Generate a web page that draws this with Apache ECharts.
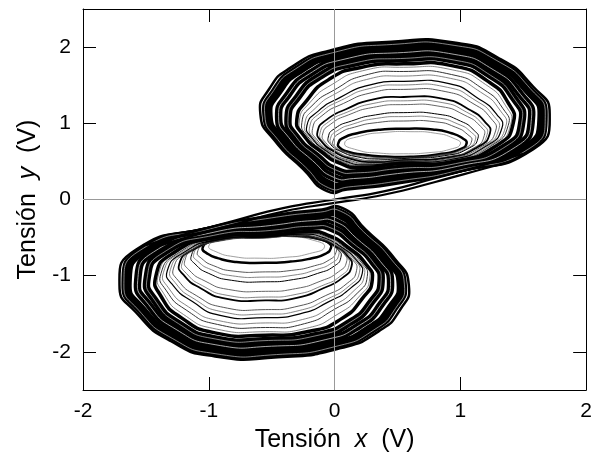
<!DOCTYPE html>
<html>
<head>
<meta charset="utf-8">
<script src="https://cdn.jsdelivr.net/npm/echarts@6/dist/echarts.min.js"></script>
<style>
  html, body { margin: 0; padding: 0; background: #fff; }
  #chart { width: 595px; height: 459px; }
</style>
</head>
<body>
<div id="chart"></div>
<script>
// tick values on both axes
const xTicks = [-2, -1, 0, 1, 2]
const yTicks = [-2, -1, 0, 1, 2]

// upper scroll: rings, from the hole outwards (x, y in volts)
const upperCore = [[0.08,0.74],[0.2,0.83],[0.4,0.88],[0.6,0.89],[0.8,0.87],[0.95,0.8],[1.0,0.73],[0.92,0.66],[0.75,0.615],[0.55,0.6],[0.35,0.61],[0.18,0.65]]
const upperRings = [
  [[0.03,0.74],[0.07,0.81],[0.18,0.87],[0.35,0.915],[0.55,0.93],[0.78,0.92],[0.93,0.87],[1.02,0.80],[1.05,0.74],[1.00,0.66],[0.85,0.60],[0.60,0.56],[0.40,0.565],[0.22,0.59],[0.10,0.63],[0.04,0.68]],
  [[-0.01,0.78],[0.04,0.87],[0.16,0.95],[0.34,1.01],[0.55,1.03],[0.80,1.02],[0.96,0.95],[1.06,0.85],[1.09,0.77],[1.03,0.67],[0.86,0.59],[0.59,0.55],[0.38,0.55],[0.20,0.58],[0.08,0.63],[0.00,0.70]],
  [[-0.05,0.82],[0.00,0.93],[0.135,1.03],[0.325,1.11],[0.55,1.14],[0.82,1.12],[1.00,1.03],[1.11,0.905],[1.14,0.805],[1.07,0.675],[0.875,0.575],[0.575,0.54],[0.35,0.53],[0.18,0.56],[0.05,0.63],[-0.03,0.72]],
  [[-0.095,0.86],[-0.03,0.99],[0.11,1.11],[0.31,1.21],[0.55,1.245],[0.845,1.22],[1.03,1.11],[1.16,0.96],[1.19,0.84],[1.11,0.68],[0.89,0.56],[0.56,0.525],[0.32,0.51],[0.155,0.545],[0.025,0.625],[-0.07,0.745]],
  [[-0.135,0.895],[-0.065,1.045],[0.09,1.185],[0.30,1.31],[0.55,1.345],[0.865,1.32],[1.065,1.185],[1.20,1.01],[1.235,0.87],[1.14,0.69],[0.90,0.55],[0.55,0.515],[0.30,0.49],[0.135,0.53],[0.0,0.625],[-0.105,0.765]],
  [[-0.175,0.93],[-0.10,1.10],[0.07,1.26],[0.29,1.40],[0.55,1.445],[0.885,1.415],[1.10,1.26],[1.245,1.06],[1.28,0.90],[1.175,0.70],[0.91,0.54],[0.54,0.505],[0.275,0.475],[0.115,0.515],[-0.025,0.62],[-0.14,0.785]],
  [[-0.22,0.97],[-0.13,1.16],[0.045,1.34],[0.275,1.50],[0.55,1.55],[0.91,1.52],[1.13,1.34],[1.29,1.115],[1.33,0.935],[1.21,0.705],[0.925,0.525],[0.525,0.49],[0.25,0.455],[0.09,0.50],[-0.05,0.62],[-0.18,0.81]],
  [[-0.26,1.01],[-0.18,1.23],[0.0,1.44],[0.24,1.63],[0.55,1.68],[0.93,1.64],[1.18,1.45],[1.34,1.19],[1.38,0.97],[1.25,0.71],[0.94,0.51],[0.51,0.48],[0.225,0.44],[0.07,0.485],[-0.075,0.62],[-0.215,0.83]],
  [[-0.30,1.05],[-0.22,1.30],[-0.05,1.57],[0.20,1.73],[0.55,1.78],[0.95,1.75],[1.22,1.55],[1.38,1.27],[1.42,1.00],[1.30,0.72],[0.95,0.50],[0.50,0.47],[0.20,0.42],[0.05,0.47],[-0.10,0.62],[-0.25,0.85]]
]
// fainter orbits lying between the rings above
const upperFill = [
  [[-0.033,0.80],[0.019,0.90],[0.146,0.99],[0.331,1.064],[0.55,1.088],[0.812,1.072],[0.981,0.99],[1.088,0.88],[1.12,0.789],[1.053,0.671],[0.869,0.581],[0.581,0.543],[0.362,0.537],[0.188,0.567],[0.062,0.628],[-0.015,0.712]],
  [[-0.115,0.876],[-0.049,1.017],[0.101,1.147],[0.306,1.26],[0.55,1.295],[0.855,1.272],[1.049,1.147],[1.178,0.985],[1.213,0.854],[1.123,0.686],[0.894,0.556],[0.556,0.52],[0.312,0.501],[0.145,0.537],[0.012,0.626],[-0.088,0.755]],
  [[-0.198,0.954],[-0.116,1.134],[0.056,1.305],[0.281,1.457],[0.55,1.503],[0.897,1.472],[1.116,1.305],[1.268,1.09],[1.305,0.919],[1.193,0.701],[0.919,0.531],[0.531,0.498],[0.262,0.465],[0.103,0.507],[-0.038,0.623],[-0.16,0.797]],
  [[-0.237,0.991],[-0.155,1.195],[0.02,1.40],[0.255,1.575],[0.55,1.62],[0.92,1.59],[1.16,1.41],[1.32,1.16],[1.36,0.955],[1.235,0.71],[0.931,0.519],[0.519,0.487],[0.238,0.448],[0.082,0.493],[-0.062,0.622],[-0.195,0.818]],
  [[-0.28,1.031],[-0.20,1.265],[-0.02,1.51],[0.225,1.69],[0.55,1.735],[0.94,1.70],[1.20,1.51],[1.36,1.23],[1.40,0.985],[1.275,0.716],[0.944,0.506],[0.506,0.475],[0.212,0.429],[0.06,0.477],[-0.088,0.621],[-0.233,0.84]]
]
const upperBand = [
  [[-0.37,1.07],[-0.295,1.34],[-0.125,1.61],[0.14,1.785],[0.525,1.85],[0.95,1.83],[1.24,1.63],[1.43,1.32],[1.49,1.03],[1.37,0.705],[0.96,0.47],[0.50,0.405],[0.175,0.35],[0.02,0.38],[-0.14,0.565],[-0.31,0.83]],
  [[-0.445,1.085],[-0.37,1.375],[-0.20,1.65],[0.075,1.84],[0.50,1.925],[0.95,1.905],[1.26,1.705],[1.48,1.375],[1.565,1.06],[1.44,0.69],[0.975,0.435],[0.50,0.34],[0.15,0.275],[-0.005,0.29],[-0.175,0.51],[-0.365,0.815]],
  [[-0.52,1.10],[-0.445,1.41],[-0.275,1.69],[0.01,1.895],[0.475,2.0],[0.95,1.98],[1.28,1.78],[1.53,1.43],[1.64,1.09],[1.51,0.675],[0.99,0.40],[0.50,0.275],[0.125,0.20],[-0.03,0.20],[-0.21,0.455],[-0.42,0.80]],
  [[-0.555,1.11],[-0.484,1.43],[-0.314,1.71],[-0.02,1.924],[0.462,2.035],[0.95,2.023],[1.29,1.823],[1.556,1.455],[1.675,1.106],[1.546,0.667],[0.994,0.386],[0.50,0.241],[0.112,0.165],[-0.047,0.153],[-0.232,0.426],[-0.452,0.788]],
  [[-0.59,1.12],[-0.52,1.45],[-0.35,1.73],[-0.05,1.95],[0.45,2.07],[0.95,2.06],[1.30,1.86],[1.58,1.48],[1.71,1.12],[1.58,0.66],[1.00,0.37],[0.50,0.21],[0.10,0.13],[-0.06,0.11],[-0.25,0.40],[-0.48,0.78]]
]

// lower scroll
const lowerCore = [[-0.08,-0.62],[-0.2,-0.71],[-0.4,-0.76],[-0.6,-0.77],[-0.8,-0.75],[-0.95,-0.68],[-1.0,-0.61],[-0.92,-0.54],[-0.75,-0.495],[-0.55,-0.48],[-0.35,-0.49],[-0.18,-0.53]]
const lowerRings = [
  [[-0.03,-0.64],[-0.07,-0.71],[-0.18,-0.77],[-0.35,-0.815],[-0.55,-0.83],[-0.78,-0.82],[-0.93,-0.77],[-1.02,-0.70],[-1.05,-0.64],[-1.0,-0.56],[-0.85,-0.50],[-0.60,-0.46],[-0.40,-0.465],[-0.22,-0.49],[-0.10,-0.53],[-0.04,-0.58]],
  [[0.01,-0.70],[-0.04,-0.79],[-0.16,-0.87],[-0.34,-0.93],[-0.55,-0.95],[-0.80,-0.94],[-0.96,-0.87],[-1.06,-0.77],[-1.09,-0.69],[-1.03,-0.59],[-0.86,-0.51],[-0.59,-0.47],[-0.38,-0.47],[-0.20,-0.50],[-0.08,-0.55],[0.0,-0.62]],
  [[0.05,-0.76],[0.0,-0.87],[-0.135,-0.97],[-0.325,-1.05],[-0.55,-1.08],[-0.82,-1.06],[-1.0,-0.97],[-1.11,-0.845],[-1.14,-0.745],[-1.07,-0.615],[-0.875,-0.515],[-0.575,-0.48],[-0.35,-0.47],[-0.18,-0.50],[-0.05,-0.57],[0.03,-0.66]],
  [[0.095,-0.82],[0.03,-0.95],[-0.11,-1.07],[-0.31,-1.17],[-0.55,-1.205],[-0.845,-1.18],[-1.03,-1.07],[-1.16,-0.92],[-1.19,-0.80],[-1.11,-0.64],[-0.89,-0.52],[-0.56,-0.485],[-0.32,-0.47],[-0.155,-0.505],[-0.025,-0.585],[0.07,-0.705]],
  [[0.135,-0.875],[0.065,-1.025],[-0.09,-1.165],[-0.30,-1.29],[-0.55,-1.325],[-0.865,-1.30],[-1.065,-1.165],[-1.20,-0.99],[-1.235,-0.85],[-1.14,-0.67],[-0.90,-0.53],[-0.55,-0.495],[-0.30,-0.47],[-0.135,-0.51],[0.0,-0.605],[0.105,-0.745]],
  [[0.175,-0.93],[0.10,-1.10],[-0.07,-1.26],[-0.29,-1.40],[-0.55,-1.445],[-0.885,-1.415],[-1.10,-1.26],[-1.245,-1.06],[-1.28,-0.90],[-1.175,-0.70],[-0.91,-0.54],[-0.54,-0.505],[-0.275,-0.475],[-0.115,-0.515],[0.025,-0.62],[0.14,-0.785]],
  [[0.22,-0.97],[0.13,-1.16],[-0.045,-1.34],[-0.275,-1.50],[-0.55,-1.55],[-0.91,-1.52],[-1.13,-1.34],[-1.29,-1.115],[-1.33,-0.935],[-1.21,-0.705],[-0.925,-0.525],[-0.525,-0.49],[-0.25,-0.455],[-0.09,-0.50],[0.05,-0.62],[0.18,-0.81]],
  [[0.26,-1.01],[0.18,-1.23],[0.0,-1.44],[-0.24,-1.63],[-0.55,-1.68],[-0.93,-1.64],[-1.18,-1.45],[-1.34,-1.19],[-1.38,-0.97],[-1.25,-0.71],[-0.94,-0.51],[-0.51,-0.48],[-0.225,-0.44],[-0.07,-0.485],[0.075,-0.62],[0.215,-0.83]],
  [[0.30,-1.05],[0.22,-1.30],[0.05,-1.57],[-0.20,-1.73],[-0.55,-1.78],[-0.95,-1.75],[-1.22,-1.55],[-1.38,-1.27],[-1.42,-1.00],[-1.30,-0.72],[-0.95,-0.50],[-0.50,-0.47],[-0.20,-0.42],[-0.05,-0.47],[0.10,-0.62],[0.25,-0.85]]
]
const lowerFill = [
  [[0.033,-0.73],[-0.019,-0.83],[-0.146,-0.92],[-0.331,-0.994],[-0.55,-1.018],[-0.812,-1.002],[-0.981,-0.92],[-1.088,-0.81],[-1.12,-0.719],[-1.053,-0.601],[-0.869,-0.511],[-0.581,-0.473],[-0.362,-0.467],[-0.188,-0.497],[-0.062,-0.558],[0.015,-0.642]],
  [[0.115,-0.861],[0.049,-1.002],[-0.101,-1.132],[-0.306,-1.245],[-0.55,-1.28],[-0.855,-1.257],[-1.049,-1.132],[-1.178,-0.97],[-1.213,-0.839],[-1.123,-0.671],[-0.894,-0.541],[-0.556,-0.505],[-0.312,-0.486],[-0.145,-0.522],[-0.012,-0.611],[0.088,-0.74]],
  [[0.198,-0.954],[0.116,-1.134],[-0.056,-1.305],[-0.281,-1.457],[-0.55,-1.503],[-0.897,-1.472],[-1.116,-1.305],[-1.268,-1.09],[-1.305,-0.919],[-1.193,-0.701],[-0.919,-0.531],[-0.531,-0.498],[-0.262,-0.465],[-0.103,-0.507],[0.038,-0.623],[0.16,-0.797]],
  [[0.237,-0.991],[0.155,-1.195],[-0.02,-1.40],[-0.255,-1.575],[-0.55,-1.62],[-0.92,-1.59],[-1.16,-1.41],[-1.32,-1.16],[-1.36,-0.955],[-1.235,-0.71],[-0.931,-0.519],[-0.519,-0.487],[-0.238,-0.448],[-0.082,-0.493],[0.062,-0.622],[0.195,-0.818]],
  [[0.28,-1.031],[0.20,-1.265],[0.02,-1.51],[-0.225,-1.69],[-0.55,-1.735],[-0.94,-1.70],[-1.20,-1.51],[-1.36,-1.23],[-1.40,-0.985],[-1.275,-0.716],[-0.944,-0.506],[-0.506,-0.475],[-0.212,-0.429],[-0.06,-0.477],[0.088,-0.621],[0.233,-0.84]]
]
const lowerBand = [
  [[0.37,-1.07],[0.295,-1.34],[0.125,-1.61],[-0.14,-1.785],[-0.525,-1.85],[-0.95,-1.83],[-1.24,-1.63],[-1.43,-1.32],[-1.49,-1.03],[-1.37,-0.705],[-0.96,-0.47],[-0.50,-0.405],[-0.175,-0.35],[-0.02,-0.38],[0.14,-0.565],[0.31,-0.83]],
  [[0.445,-1.085],[0.37,-1.375],[0.20,-1.65],[-0.075,-1.84],[-0.50,-1.925],[-0.95,-1.905],[-1.26,-1.705],[-1.48,-1.375],[-1.565,-1.06],[-1.44,-0.69],[-0.975,-0.435],[-0.50,-0.34],[-0.15,-0.275],[0.005,-0.29],[0.175,-0.51],[0.365,-0.815]],
  [[0.52,-1.10],[0.445,-1.41],[0.275,-1.69],[-0.01,-1.895],[-0.475,-2.0],[-0.95,-1.98],[-1.28,-1.78],[-1.53,-1.43],[-1.64,-1.09],[-1.51,-0.675],[-0.99,-0.40],[-0.50,-0.275],[-0.125,-0.20],[0.03,-0.20],[0.21,-0.455],[0.42,-0.80]],
  [[0.555,-1.11],[0.484,-1.43],[0.314,-1.71],[0.02,-1.924],[-0.462,-2.035],[-0.95,-2.023],[-1.29,-1.823],[-1.556,-1.455],[-1.675,-1.106],[-1.546,-0.667],[-0.994,-0.386],[-0.50,-0.241],[-0.112,-0.165],[0.047,-0.153],[0.232,-0.426],[0.452,-0.788]],
  [[0.59,-1.12],[0.52,-1.45],[0.35,-1.73],[0.05,-1.95],[-0.45,-2.07],[-0.95,-2.06],[-1.30,-1.86],[-1.58,-1.48],[-1.71,-1.12],[-1.58,-0.66],[-1.00,-0.37],[-0.50,-0.21],[-0.10,-0.13],[0.06,-0.11],[0.25,-0.40],[0.48,-0.78]]
]

// the two strands that cross between the scrolls through the origin
const crossingA = [[-1.5,-0.6],[-1.2,-0.46],[-0.8,-0.28],[-0.4,-0.11],[0,0],[0.4,0.11],[0.8,0.28],[1.2,0.46],[1.5,0.6]]
const crossingB = [[-1.4,-0.61],[-1.2,-0.51],[-0.8,-0.33],[-0.4,-0.155],[0,-0.045],[0.4,0.065],[0.8,0.23],[1.2,0.41],[1.4,0.5]]

// line look per ring (inner rings, then band)
const ringWidths = [2.5, 0.9, 1.0, 0.9, 1.8, 0.9, 1.2, 1.0, 3.5]
const ringColors = ['#000', '#444', '#000', '#555', '#000', '#444', '#000', '#333', '#000']
const bandWidths = [7.5, 7.5, 7, 5, 2.5]
// thin light streaks seen inside the dark band (band ring index, width)
const bandStreaks = [[0, 0.7], [1, 0.9], [3, 0.7]]

const FONT = 'Liberation Sans, Arial, sans-serif'

// every closed orbit and open strand, with its stroke
const curves = []
;[[upperCore, upperRings, upperFill, upperBand], [lowerCore, lowerRings, lowerFill, lowerBand]].forEach(([core, rings, fill, band]) => {
  curves.push({ pts: core, closed: true, width: 0.8, color: '#888' })
  fill.forEach(r => curves.push({ pts: r, closed: true, width: 0.8, color: '#666' }))
  rings.forEach((r, i) => curves.push({ pts: r, closed: true, width: ringWidths[i], color: ringColors[i] }))
  band.forEach((r, i) => curves.push({ pts: r, closed: true, width: bandWidths[i], color: '#000' }))
  bandStreaks.forEach(([i, w]) => curves.push({ pts: band[i], closed: true, width: w, color: '#bbb' }))
})
curves.push({ pts: crossingA, closed: false, width: 2.2, color: '#000' })
curves.push({ pts: crossingB, closed: false, width: 2.2, color: '#000' })

const series = [
  {
    // grey zero lines behind everything
    type: 'line',
    data: [],
    silent: true,
    z: 1,
    markLine: {
      silent: true,
      symbol: 'none',
      label: { show: false },
      lineStyle: { color: '#999', width: 1, type: 'solid' },
      data: [{ xAxis: 0 }, { yAxis: 0 }]
    }
  },
  {
    type: 'custom',
    silent: true,
    z: 3,
    data: curves.map((c, i) => [i, 0]),
    encode: { x: -1, y: -1 },
    renderItem (params, api) {
      const c = curves[api.value(0)]
      const points = c.pts.map(p => api.coord(p))
      return {
        type: c.closed ? 'polygon' : 'polyline',
        shape: { points: points, smooth: 0.6 },
        style: { fill: null, stroke: c.color, lineWidth: c.width },
        silent: true
      }
    }
  }
]

const axisCommon = {
  type: 'value',
  interval: 1,
  axisLine: { show: true, onZero: false, lineStyle: { color: '#000', width: 1 } },
  axisTick: { show: true, inside: true, length: 13, lineStyle: { color: '#000', width: 1 } },
  splitLine: { show: false }
}

const nameRich = {
  t: { fontSize: 25, fontFamily: FONT, color: '#000' },
  i: { fontSize: 25, fontFamily: FONT, fontStyle: 'italic', color: '#000' }
}

const chart = echarts.init(document.getElementById('chart'), null, { renderer: 'canvas' })
chart.setOption({
  animation: false,
  backgroundColor: '#fff',
  grid: { left: 83, top: 9, right: 5, bottom: 69 },
  xAxis: [
    Object.assign({}, axisCommon, {
      min: xTicks[0],
      max: xTicks[xTicks.length - 1],
      position: 'bottom',
      axisLabel: { fontSize: 21, color: '#000', fontFamily: FONT, margin: 11 },
      name: '{t|Tensión  }{i|x}{t|  (V)}',
      nameLocation: 'middle',
      nameGap: 38,
      nameTextStyle: { rich: nameRich }
    }),
    Object.assign({}, axisCommon, {
      min: xTicks[0],
      max: xTicks[xTicks.length - 1],
      position: 'top',
      axisLabel: { show: false }
    })
  ],
  yAxis: [
    Object.assign({}, axisCommon, {
      min: -2.5,
      max: 2.5,
      position: 'left',
      axisLabel: {
        fontSize: 21, color: '#000', fontFamily: FONT, margin: 12,
        customValues: yTicks
      },
      axisTick: Object.assign({}, axisCommon.axisTick, { customValues: yTicks }),
      name: '{t|Tensión  }{i|y}{t|  (V)}',
      nameLocation: 'middle',
      nameGap: 42,
      nameTextStyle: { rich: nameRich }
    }),
    Object.assign({}, axisCommon, {
      min: -2.5,
      max: 2.5,
      position: 'right',
      axisLabel: { show: false },
      axisTick: Object.assign({}, axisCommon.axisTick, { customValues: yTicks })
    })
  ],
  series: series
})
</script>
</body>
</html>
